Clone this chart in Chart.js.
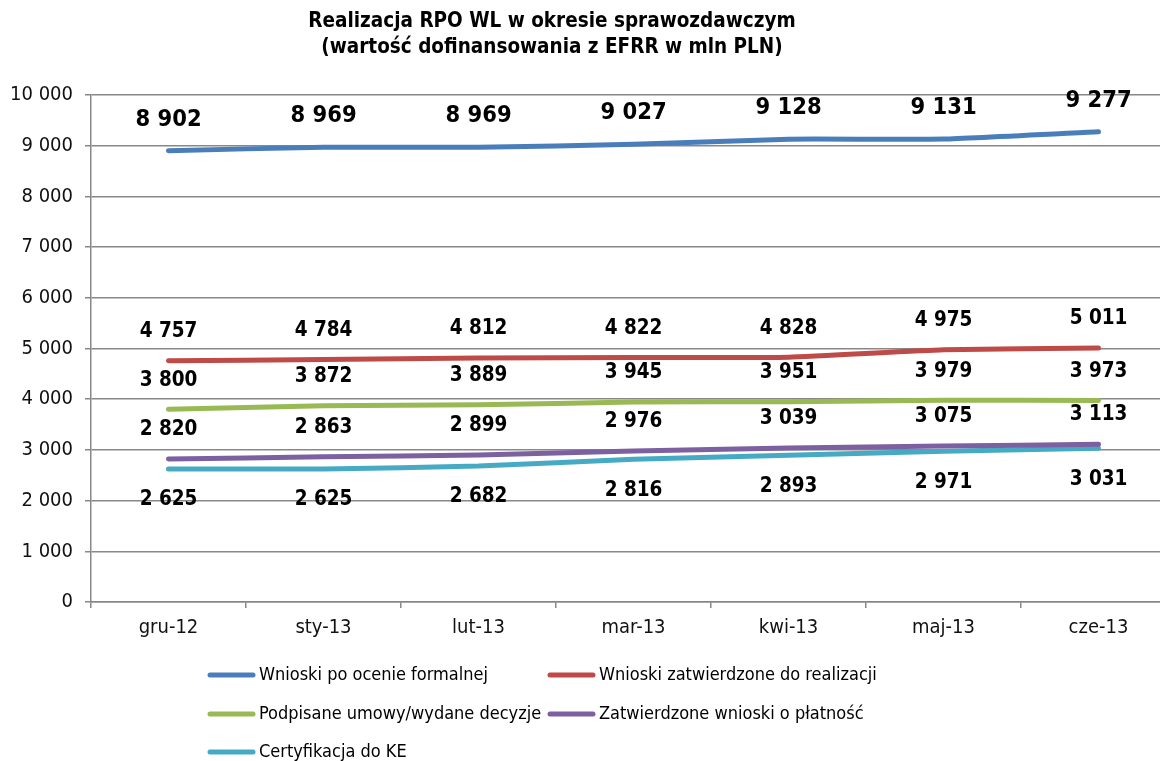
<!DOCTYPE html>
<html>
<head>
<meta charset="utf-8">
<script src="https://cdn.jsdelivr.net/npm/chart.js@4.4.1/dist/chart.umd.min.js"></script>
<style>
  html, body { margin: 0; padding: 0; background: #fff; overflow: hidden; }
  #wrap { width: 1180px; height: 761px; }
</style>
</head>
<body>
<div id="wrap"><canvas id="rpoChart" width="1180" height="761"></canvas></div>
<script>
/* ── DATA ──────────────────────────────────────────────────── */
const months = ['gru-12', 'sty-13', 'lut-13', 'mar-13', 'kwi-13', 'maj-13', 'cze-13'];

const wnioskiOcena      = [8902, 8969, 8969, 9027, 9128, 9131, 9277];
const wnioskiZatw       = [4757, 4784, 4812, 4822, 4828, 4975, 5011];
const umowyDecyzje      = [3800, 3872, 3889, 3945, 3951, 3979, 3973];
const wnioskiPlatnosc   = [2820, 2863, 2899, 2976, 3039, 3075, 3113];
const certyfikacjaKE    = [2625, 2625, 2682, 2816, 2893, 2971, 3031];

const yTicks = [0, 1000, 2000, 3000, 4000, 5000, 6000, 7000, 8000, 9000, 10000];

const titleLines = [
  'Realizacja RPO WL w okresie sprawozdawczym',
  '(wartość dofinansowania z EFRR w mln PLN)'
];

/* ── HELPERS ───────────────────────────────────────────────── */
const FONT = "'DejaVu Sans Condensed', 'DejaVu Sans', sans-serif";

function fmt(v) {
  return String(v).replace(/\B(?=(\d{3})+(?!\d))/g, ' ');
}

function series(label, data, color, labelOffset, labelSize) {
  return {
    label, data,
    borderColor: color, backgroundColor: color,
    borderWidth: 5, borderCapStyle: 'round', borderJoinStyle: 'round',
    pointRadius: 0, pointHoverRadius: 0, tension: 0.15,
    labelOffset, labelSize
  };
}

/* ── PLUGINS ───────────────────────────────────────────────── */
const titlePlugin = {
  id: 'customTitle',
  afterDraw(chart) {
    const c = chart.ctx;
    c.save();
    c.font = `bold 20.5px ${FONT}`;
    c.fillStyle = '#000';
    c.textAlign = 'center';
    c.textBaseline = 'middle';
    titleLines.forEach((t, i) => c.fillText(t, 552, 22 + i * 26));
    c.restore();
  }
};

const valueLabels = {
  id: 'valueLabels',
  afterDatasetsDraw(chart) {
    const c = chart.ctx;
    c.save();
    c.fillStyle = '#000';
    c.textAlign = 'center';
    c.textBaseline = 'middle';
    chart.data.datasets.forEach((ds, i) => {
      c.font = `bold ${ds.labelSize}px ${FONT}`;
      chart.getDatasetMeta(i).data.forEach((pt, j) => {
        c.fillText(fmt(ds.data[j]), pt.x, pt.y + ds.labelOffset);
      });
    });
    c.restore();
  }
};

const bottomLegend = {
  id: 'bottomLegend',
  afterDraw(chart) {
    const c = chart.ctx;
    const cols = [208, 548];
    const rows = [675, 714, 752];
    c.save();
    c.font = `18px ${FONT}`;
    c.textBaseline = 'middle';
    c.textAlign = 'left';
    chart.data.datasets.forEach((ds, i) => {
      const x = cols[i % 2];
      const y = rows[Math.floor(i / 2)];
      c.strokeStyle = ds.borderColor;
      c.lineWidth = 5;
      c.lineCap = 'round';
      c.beginPath();
      c.moveTo(x + 2, y);
      c.lineTo(x + 45, y);
      c.stroke();
      c.fillStyle = '#000';
      c.fillText(ds.label, x + 51, y);
    });
    c.restore();
  }
};

/* ── CHART ─────────────────────────────────────────────────── */
new Chart(document.getElementById('rpoChart'), {
  type: 'line',
  data: {
    labels: months,
    datasets: [
      series('Wnioski po ocenie formalnej',          wnioskiOcena,    '#4A7EBB', -31, 23.5),
      series('Wnioski zatwierdzone do realizacji',   wnioskiZatw,     '#BE4B48', -29, 20.5),
      series('Podpisane umowy/wydane decyzje',       umowyDecyzje,    '#98B954', -29, 20.5),
      series('Zatwierdzone wnioski o płatność',      wnioskiPlatnosc, '#7D60A0', -29, 20.5),
      series('Certyfikacja do KE',                   certyfikacjaKE,  '#46AAC5',  31, 20.5)
    ]
  },
  options: {
    responsive: false,
    animation: false,
    layout: { padding: { top: 95, right: 4, left: 0, bottom: 0 } },
    plugins: {
      legend: { display: false },
      title: { display: false },
      tooltip: { enabled: false }
    },
    scales: {
      x: {
        offset: true,
        grid: { display: true, drawOnChartArea: false, offset: true, tickLength: 6, color: '#888', lineWidth: 1.5 },
        border: { color: '#888', width: 1.5 },
        ticks: { color: '#111', font: { family: FONT, size: 20 }, padding: 8, maxRotation: 0 },
        afterFit(s) { s.height = 159; }
      },
      y: {
        min: 0, max: 10000,
        afterBuildTicks(s) { s.ticks = yTicks.map(v => ({ value: v })); },
        grid: { color: '#888', lineWidth: 1.5, tickLength: 6 },
        border: { color: '#888', width: 1.5 },
        ticks: { color: '#111', font: { family: FONT, size: 20 }, padding: 12, callback: v => fmt(v) },
        afterFit(s) { s.width = 91; }
      }
    }
  },
  plugins: [titlePlugin, valueLabels, bottomLegend]
});
</script>
</body>
</html>
